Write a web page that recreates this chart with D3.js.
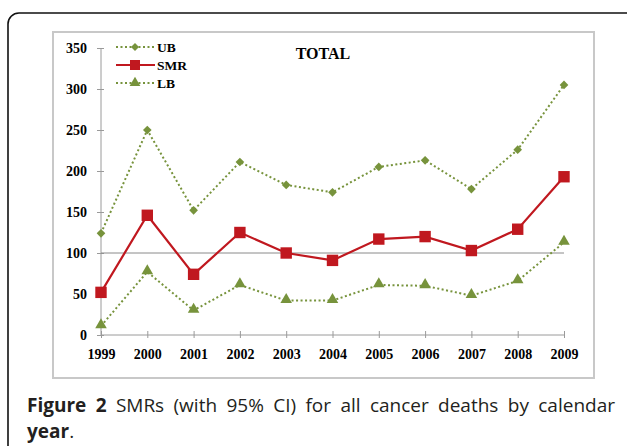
<!DOCTYPE html>
<html><head><meta charset="utf-8">
<script src="https://cdn.jsdelivr.net/npm/d3@7/dist/d3.min.js"></script>
<style>body{margin:0;background:#fff;}svg{display:block;}</style>
</head><body>
<svg id="c" width="627" height="446"></svg>
<script>
const years = [1999,2000,2001,2002,2003,2004,2005,2006,2007,2008,2009];
const ub  = [124,250,152,211,183,174,205,213,178,226,305];
const smr = [52,146,74,125,100,91,117,120,103,129,193];
const lb  = [11,77,30,61,42,42,61,60,48,66,113];
const yTicks = [0,50,100,150,200,250,300,350];
const seriesNames = ["UB","SMR","LB"];
const titleText = "TOTAL";
const captionWords = [["Figure",true],["2",true],["SMRs",false],["(with",false],["95%",false],["CI)",false],["for",false],["all",false],["cancer",false],["deaths",false],["by",false],["calendar",false]];

const svg = d3.select("#c");
const green = "#77933c", red = "#c0181f";
const serif = "'Liberation Serif','Times New Roman',serif";
const sans = "'Open Sans','Noto Sans',sans-serif";

// outer rounded frame
svg.append("rect").attr("x",8).attr("y",13).attr("width",640).attr("height",500)
  .attr("rx",11).attr("fill","none").attr("stroke","#111").attr("stroke-width",1.6);
// inner chart frame
svg.append("rect").attr("x",53).attr("y",32).attr("width",541).attr("height",346)
  .attr("fill","#fff").attr("stroke","#c8c8c8").attr("stroke-width",2);

const x = d3.scalePoint().domain(years).range([101,564]);
const y = d3.scaleLinear().domain([0,350]).range([335,48]);

// y axis
const yAx = svg.append("g").attr("transform","translate(101,0)")
  .call(d3.axisLeft(y).tickValues(yTicks).tickSize(4).tickPadding(10));
yAx.select(".domain").attr("stroke","#9a9a9a").attr("d","M0,48V335");
yAx.selectAll(".tick line").attr("stroke","#9a9a9a").attr("x1",3).attr("x2",-4);
yAx.selectAll("text").attr("font-family",serif).attr("font-weight","bold").attr("font-size",14).attr("fill","#000");

// x axis
const xAx = svg.append("g").attr("transform","translate(0,335)")
  .call(d3.axisBottom(x).tickSize(4).tickPadding(10));
xAx.select(".domain").attr("stroke","#9a9a9a").attr("d","M101,0H564");
xAx.selectAll(".tick line").attr("stroke","#9a9a9a").attr("y1",-4).attr("y2",3);
xAx.selectAll("text").attr("font-family",serif).attr("font-weight","bold").attr("font-size",14).attr("fill","#000");

// reference line at 100
svg.append("line").attr("x1",101).attr("x2",564).attr("y1",y(100)).attr("y2",y(100))
  .attr("stroke","#8a8a8a").attr("stroke-width",1);

const line = d3.line().x((d,i)=>x(years[i])).y(d=>y(d));
function dotted(data){
  svg.append("path").datum(data).attr("d",line).attr("fill","none")
    .attr("stroke",green).attr("stroke-width",2).attr("stroke-dasharray","2,2.5");
}
dotted(ub); dotted(lb);
svg.append("path").datum(smr).attr("d",line).attr("fill","none")
  .attr("stroke",red).attr("stroke-width",2.2);

const diamond = d3.symbol().type(d3.symbolDiamond2).size(48);
const square = d3.symbol().type(d3.symbolSquare).size(130);
const tri = d3.symbol().type(d3.symbolTriangle).size(58);

svg.selectAll(".ub").data(ub).join("path").attr("d",diamond)
  .attr("transform",(d,i)=>`translate(${x(years[i])},${y(d)})`).attr("fill",green);
svg.selectAll(".lb").data(lb).join("path").attr("d",tri)
  .attr("transform",(d,i)=>`translate(${x(years[i])},${y(d)-1})`).attr("fill",green);
svg.selectAll(".smr").data(smr).join("path").attr("d",square)
  .attr("transform",(d,i)=>`translate(${x(years[i])},${y(d)})`).attr("fill",red);

// legend
const legY = [47,65,83];
const legSym = [d3.symbol().type(d3.symbolDiamond2).size(40), d3.symbol().type(d3.symbolSquare).size(100), d3.symbol().type(d3.symbolTriangle).size(50)];
seriesNames.forEach((n,i)=>{
  const g = svg.append("g");
  const isSmr = n==="SMR";
  g.append("line").attr("x1",116).attr("x2",155).attr("y1",legY[i]).attr("y2",legY[i])
    .attr("stroke",isSmr?red:green).attr("stroke-width",2)
    .attr("stroke-dasharray",isSmr?null:"2,2.5");
  g.append("path").attr("d",legSym[i]).attr("transform",`translate(135,${legY[i]})`)
    .attr("fill",isSmr?red:green);
  g.append("text").attr("x",157).attr("y",legY[i]).attr("dy","0.35em")
    .attr("font-family",serif).attr("font-weight","bold").attr("font-size",13.5).text(n);
});

// title
svg.append("text").attr("x",323).attr("y",53).attr("dy","0.35em").attr("text-anchor","middle")
  .attr("font-family",serif).attr("font-weight","bold").attr("font-size",16).text(titleText);

// caption line 1 (justified between 27 and 615)
const capG = svg.append("g");
const nodes = captionWords.map(([t,b])=>capG.append("text").attr("y",412)
  .attr("font-family",sans).attr("font-size",19).attr("fill","#231f20")
  .attr("font-weight",b?"bold":"normal").text(t));
const widths = nodes.map(n=>n.node().getComputedTextLength());
const total = d3.sum(widths);
const gap = (615-27-total)/(nodes.length-1);
let cx = 27;
nodes.forEach((n,i)=>{ n.attr("x",cx); cx += widths[i] + gap; });

const cap2 = svg.append("text").attr("x",27).attr("y",438)
  .attr("font-family",sans).attr("font-size",19).attr("fill","#231f20");
cap2.append("tspan").attr("font-weight","bold").text("year");
cap2.append("tspan").text(".");
</script>
</body></html>
